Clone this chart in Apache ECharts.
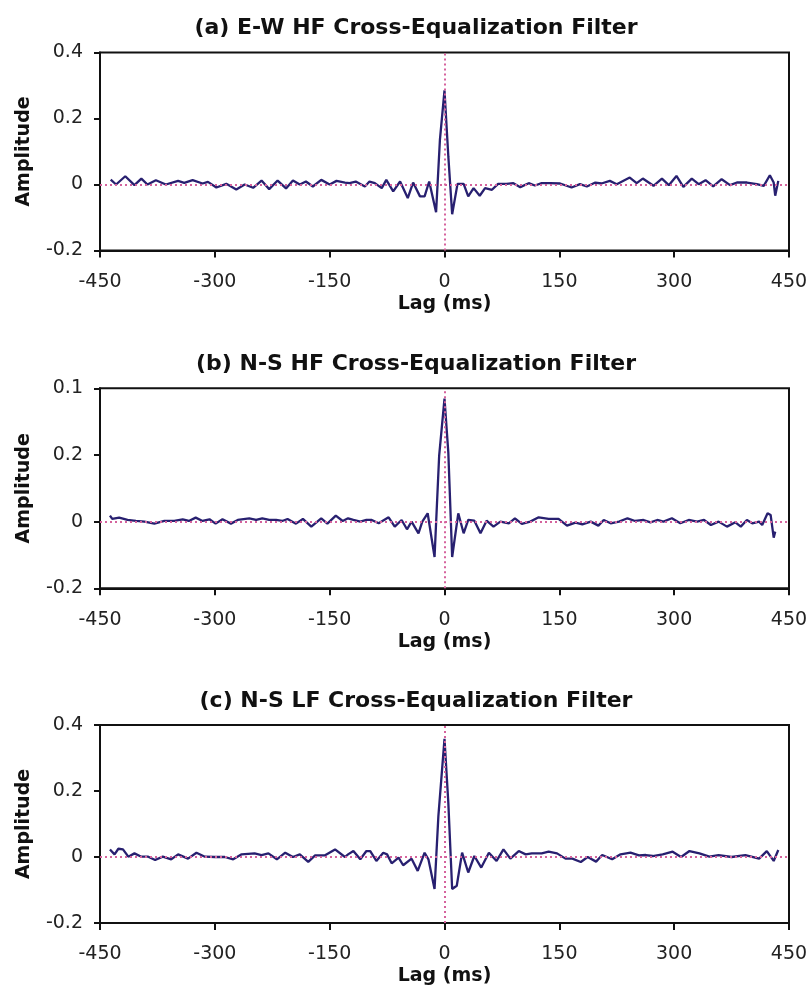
<!DOCTYPE html>
<html><head><meta charset="utf-8">
<script src="https://cdn.jsdelivr.net/npm/echarts@6/dist/echarts.min.js"></script>
<style>html,body{margin:0;padding:0;background:#fff}#c{width:812px;height:997px}</style>
</head><body><div id="c"></div>
<script>
// ---- titles & ticks ----
const titles = ['(a) E-W HF Cross-Equalization Filter', '(b) N-S HF Cross-Equalization Filter', '(c) N-S LF Cross-Equalization Filter'];
const xTicks = [-450, -300, -150, 0, 150, 300, 450];
const yTicks = [-0.2, 0, 0.2, 0.4];
const yTickLabelsA = ['-0.2', '0', '0.2', '0.4'];
const yTickLabelsB = ['-0.2', '0', '0.2', '0.1'];
const yTickLabelsC = ['-0.2', '0', '0.2', '0.4'];
const xName = 'Lag (ms)';
const yName = 'Amplitude';

// ---- panel (a) ----
const lagsA = [-436,-429,-417,-405,-396,-388,-377,-364,-348,-340,-329,-316,-309,-298,-285,-272,-261,-250,-239,-229,-218,-207,-198,-189,-181,-172,-161,-150,-141,-130,-124,-116,-104,-98,-91,-82,-76,-67,-58,-48,-41,-32,-26,-20,-11,-6,0,5,10,17,25,31,38,46,53,62,70,81,90,99,110,118,127,138,151,166,177,186,197,205,216,225,242,251,259,273,284,293,303,312,323,332,341,351,362,373,382,395,408,417,425,430,432,436];
const ampA = [0.015,0.000,0.025,-0.002,0.018,0.000,0.013,0.000,0.011,0.005,0.013,0.003,0.008,-0.009,0.002,-0.015,0.000,-0.010,0.012,-0.014,0.012,-0.012,0.012,0.000,0.009,-0.006,0.014,0.000,0.011,0.006,0.004,0.009,-0.006,0.009,0.004,-0.011,0.014,-0.021,0.009,-0.041,0.006,-0.036,-0.036,0.009,-0.084,0.135,0.285,0.085,-0.090,0.002,0.002,-0.036,-0.011,-0.034,-0.011,-0.016,0.002,0.002,0.004,-0.008,0.004,-0.003,0.004,0.004,0.003,-0.009,0.001,-0.006,0.006,0.003,0.011,0.001,0.021,0.004,0.018,-0.004,0.018,-0.002,0.026,-0.007,0.018,0.001,0.013,-0.006,0.016,-0.002,0.006,0.006,0.001,-0.004,0.028,0.006,-0.034,0.011];

// ---- panel (b) ----
const lagsB = [-437,-434,-425,-414,-403,-392,-379,-366,-353,-342,-334,-325,-316,-307,-299,-290,-279,-270,-255,-246,-238,-229,-220,-212,-205,-194,-185,-174,-161,-153,-142,-133,-126,-119,-110,-102,-95,-86,-73,-65,-56,-49,-43,-34,-29,-22,-13,-7,0,5,10,18,25,31,39,47,55,64,73,84,92,101,112,123,136,149,160,171,180,191,201,208,217,228,239,249,260,269,278,286,297,308,319,330,339,348,358,369,380,387,395,402,411,415,422,426,430,432];
const ampB = [0.018,0.008,0.012,0.005,0.002,0.000,-0.006,0.002,0.002,0.007,0.002,0.012,0.002,0.007,-0.006,0.007,-0.006,0.005,0.010,0.005,0.010,0.005,0.005,0.002,0.008,-0.006,0.008,-0.015,0.010,-0.006,0.018,0.002,0.010,0.005,0.000,0.005,0.005,-0.005,0.013,-0.015,0.005,-0.023,0.000,-0.035,0.000,0.025,-0.106,0.197,0.369,0.207,-0.106,0.025,-0.035,0.005,0.003,-0.035,0.003,-0.015,0.000,-0.005,0.010,-0.007,0.000,0.013,0.008,0.008,-0.012,-0.003,-0.008,0.000,-0.012,0.005,-0.005,0.000,0.010,0.002,0.005,-0.002,0.005,0.000,0.010,-0.005,0.005,0.000,0.005,-0.010,0.000,-0.015,-0.002,-0.015,0.005,-0.005,0.000,-0.010,0.025,0.020,-0.048,-0.030];

// ---- panel (c) ----
const lagsC = [-437,-431,-426,-420,-413,-405,-396,-387,-378,-368,-357,-348,-335,-324,-313,-300,-287,-276,-265,-248,-239,-230,-219,-208,-198,-189,-178,-169,-156,-143,-130,-126,-119,-110,-102,-97,-89,-80,-75,-69,-60,-54,-43,-35,-26,-21,-13,-8,0,5,10,16,23,31,39,48,58,68,77,86,97,106,114,127,136,147,158,167,178,187,198,206,219,230,243,254,263,272,285,298,309,320,333,346,358,375,393,411,421,430,436];
const ampC = [0.023,0.008,0.025,0.023,0.001,0.011,0.001,0.001,-0.009,0.001,-0.007,0.008,-0.005,0.013,0.001,0.000,0.000,-0.007,0.008,0.011,0.006,0.011,-0.007,0.013,0.000,0.008,-0.015,0.005,0.005,0.023,0.000,0.008,0.018,-0.007,0.018,0.018,-0.012,0.013,0.008,-0.019,-0.002,-0.025,-0.005,-0.042,0.013,-0.007,-0.097,0.124,0.358,0.164,-0.097,-0.087,0.013,-0.047,0.003,-0.032,0.013,-0.012,0.023,-0.005,0.018,0.008,0.011,0.011,0.016,0.011,-0.005,-0.005,-0.015,0.000,-0.014,0.006,-0.007,0.008,0.013,0.005,0.006,0.003,0.008,0.016,0.000,0.018,0.011,0.001,0.006,0.000,0.006,-0.005,0.018,-0.012,0.021];

const panels = [
  { lags: lagsA, amp: ampA, yLabels: yTickLabelsA, title: titles[0] },
  { lags: lagsB, amp: ampB, yLabels: yTickLabelsB, title: titles[1] },
  { lags: lagsC, amp: ampC, yLabels: yTickLabelsC, title: titles[2] }
];

// ---- layout ----
const gridTops = [52.5, 388.3, 725];
const gridHeights = [198, 200, 198];
const titleTops = [12, 348, 685];
const lineColor = '#282070';
const refColor = '#d5639d';
const FONT = 'DejaVu Sans';

const option = {
  animation: false,
  backgroundColor: '#ffffff',
  title: panels.map((p, i) => ({
    text: p.title, left: 411, top: titleTops[i], textAlign: 'center',
    textStyle: { fontFamily: FONT, fontWeight: 'bold', fontSize: 22, color: '#111' }
  })),
  grid: panels.map((p, i) => ({
    left: 100, width: 689, top: gridTops[i], height: gridHeights[i],
    show: true, borderColor: '#111', borderWidth: 2, backgroundColor: 'transparent'
  })),
  xAxis: panels.map((p, i) => ({
    gridIndex: i, type: 'value', min: xTicks[0], max: xTicks[xTicks.length - 1], interval: 150,
    name: xName, nameLocation: 'middle', nameGap: 44,
    nameTextStyle: { fontFamily: FONT, fontWeight: 'bold', fontSize: 19, color: '#111' },
    axisLine: { show: true, onZero: false, lineStyle: { color: '#111', width: 2 } },
    axisTick: { show: true, length: 7, lineStyle: { color: '#111', width: 2 } },
    axisLabel: { fontFamily: FONT, fontSize: 19, color: '#222', margin: 22 },
    splitLine: { show: false }
  })),
  yAxis: panels.map((p, i) => ({
    gridIndex: i, type: 'value', min: yTicks[0], max: yTicks[yTicks.length - 1], interval: 0.2,
    name: yName, nameLocation: 'middle', nameGap: 66, nameRotate: 90,
    nameTextStyle: { fontFamily: FONT, fontWeight: 'bold', fontSize: 19, color: '#111' },
    axisLine: { show: true, onZero: false, lineStyle: { color: '#111', width: 2 } },
    axisTick: { show: true, length: 6, lineStyle: { color: '#111', width: 2 } },
    axisLabel: {
      fontFamily: FONT, fontSize: 19, color: '#222', margin: 17,
      formatter: v => {
        const k = yTicks.findIndex(t => Math.abs(t - v) < 1e-9);
        return k >= 0 ? p.yLabels[k] : '';
      }
    },
    splitLine: { show: false }
  })),
  series: panels.map((p, i) => ({
    type: 'line', xAxisIndex: i, yAxisIndex: i,
    data: p.lags.map((x, k) => [x, p.amp[k]]),
    showSymbol: false, symbol: 'none', smooth: false,
    lineStyle: { color: lineColor, width: 2.3 },
    z: 3,
    markLine: {
      silent: true, symbol: 'none', label: { show: false },
      lineStyle: { color: refColor, type: [2, 3], width: 2 },
      data: [{ yAxis: 0 }, { xAxis: 0 }],
      z: 4
    }
  }))
};

const chart = echarts.init(document.getElementById('c'), null, { renderer: 'canvas' });
chart.setOption(option);
</script>
</body></html>
